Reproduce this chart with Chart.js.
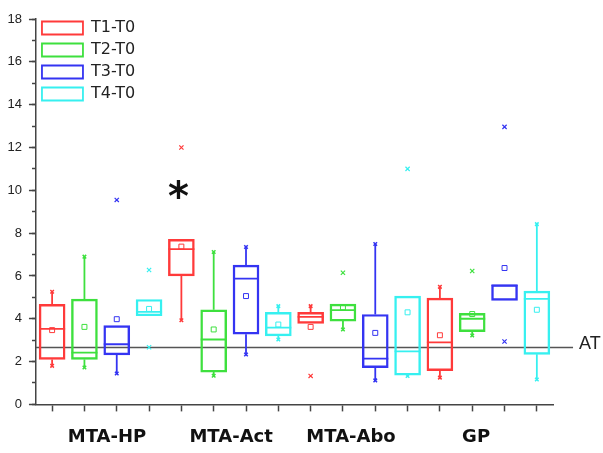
<!DOCTYPE html>
<html lang="en">
<head>
  <meta charset="UTF-8" />
  <title>Box chart | T-T0 differences</title>
  <script src="https://cdn.jsdelivr.net/npm/chart.js"></script>
  <style>
    body { margin: 0; background: #fff; }
    canvas { display: block; }
  </style>
</head>
<body>
  <canvas id="boxChart" width="603" height="453"></canvas>

  <script>
    const groups = ['MTA-HP', 'MTA-Act', 'MTA-Abo', 'GP'];
    const seriesNames = ['T1-T0', 'T2-T0', 'T3-T0', 'T4-T0'];

    // rows = series (T1..T4), columns = groups (HP, Act, Abo, GP)
    const q1 = [
      [2.1, 6.0, 3.78, 1.58],
      [2.1, 1.51, 3.89, 3.4],
      [2.31, 3.28, 1.72, 4.86],
      [4.14, 3.2, 1.37, 2.34]
    ];
    const median = [
      [3.53, 7.25, 4.09, 2.9],
      [2.42, 3.03, 4.4, 4.0],
      [2.81, 5.87, 2.14, 5.56],
      [4.32, 3.59, 2.48, 4.93]
    ];
    const q3 = [
      [4.67, 7.71, 4.3, 4.96],
      [4.92, 4.42, 4.68, 4.25],
      [3.68, 6.51, 4.2, 5.59],
      [4.9, 4.3, 5.06, 5.29]
    ];
    const mean = [
      [3.47, 7.37, 3.62, 3.23],
      [3.62, 3.5, 4.53, 4.22],
      [3.98, 5.06, 3.34, 6.37],
      [4.46, 3.73, 4.3, 4.42]
    ];
    const whiskerLow = [
      [1.8, 3.93, null, 1.25],
      [1.72, 1.34, 3.5, 3.22],
      [1.44, 2.33, 1.12, null],
      [null, 3.03, 1.33, 1.16]
    ];
    const whiskerHigh = [
      [5.26, null, 4.59, 5.49],
      [6.9, 7.12, null, null],
      [null, 7.35, 7.49, null],
      [null, 4.59, null, 8.42]
    ];
    const outliers = [
      [[], [12.0], [1.33], []],
      [[], [], [6.15], [6.23]],
      [[9.55], [], [], [12.96, 2.94]],
      [[6.28, 2.67], [], [11.0], []]
    ];
    const atLevel = 2.66;
    const starY = 9.93;   // the * above MTA-Act T1-T0

    const colors = ['#ff3a3a', '#3ee03e', '#3434f2', '#36f0f0'];
    const groupLabelAt = [2.7, 6.54, 10.25, 14.12];
    const pos = (s, g) => g * 4 + s + 1;

    const datasets = [];

    // boxes (q1..q3) first, these are the legend entries
    seriesNames.forEach((name, s) => {
      datasets.push({
        type: 'bar',
        label: name,
        data: groups.map((_, g) => ({ x: pos(s, g), y: [q1[s][g], q3[s][g]] })),
        backgroundColor: 'rgba(255,255,255,0)',
        borderColor: colors[s],
        borderWidth: 1.8,
        borderSkipped: false,
        barThickness: 26,
        grouped: false
      });
    });

    seriesNames.forEach((name, s) => {
      const c = colors[s];
      const whisk = [], ends = [], outs = [];
      groups.forEach((_, g) => {
        const x = pos(s, g);
        if (whiskerHigh[s][g] !== null) {
          whisk.push({ x, y: q3[s][g] }, { x, y: whiskerHigh[s][g] }, { x, y: null });
          ends.push({ x, y: whiskerHigh[s][g] });
        }
        if (whiskerLow[s][g] !== null) {
          whisk.push({ x, y: q1[s][g] }, { x, y: whiskerLow[s][g] }, { x, y: null });
          ends.push({ x, y: whiskerLow[s][g] });
        }
        outliers[s][g].forEach(v => outs.push({ x, y: v }));
      });

      datasets.push({
        type: 'line', label: name + ' whiskers', data: whisk,
        borderColor: c, borderWidth: 1.8, pointRadius: 0, spanGaps: false, fill: false
      });
      datasets.push({
        type: 'scatter', label: name + ' median',
        data: groups.map((_, g) => ({ x: pos(s, g), y: median[s][g] })),
        pointStyle: 'line', pointRadius: 13, pointBorderWidth: 1.8, pointBorderColor: c
      });
      datasets.push({
        type: 'scatter', label: name + ' mean',
        data: groups.map((_, g) => ({ x: pos(s, g), y: mean[s][g] })),
        pointStyle: 'rect', pointRadius: 3.5, pointBorderWidth: 1,
        pointBorderColor: c, pointBackgroundColor: 'rgba(255,255,255,0)'
      });
      datasets.push({
        type: 'scatter', label: name + ' ends', data: ends,
        pointStyle: 'crossRot', pointRadius: 2.5, pointBorderWidth: 1.5, pointBorderColor: c
      });
      datasets.push({
        type: 'scatter', label: name + ' outliers', data: outs,
        pointStyle: 'crossRot', pointRadius: 3, pointBorderWidth: 1.2, pointBorderColor: c
      });
    });

    // AT reference line, runs a bit past the x axis
    datasets.push({
      type: 'line', label: 'AT',
      data: [{ x: 0.5, y: atLevel }, { x: 17.12, y: atLevel }],
      borderColor: '#555', borderWidth: 1.5, pointRadius: 0, clip: false
    });

    // legend sits inside the plot, top-left
    const legendPlace = {
      id: 'legendPlace',
      afterLayout(chart) {
        const l = chart.legend, a = chart.chartArea;
        l.left = a.left;
        l.right = a.right;
        l.top = a.top - 5;
        l.bottom = a.bottom;
      }
    };

    const marks = {
      id: 'marks',
      afterDatasetsDraw(chart) {
        const { ctx, scales: { x, y } } = chart;
        ctx.save();
        ctx.fillStyle = '#111';
        ctx.font = 'bold 40px "DejaVu Sans"';
        ctx.textAlign = 'center';
        ctx.textBaseline = 'middle';
        ctx.fillText('*', x.getPixelForValue(pos(0, 1)) - 3, y.getPixelForValue(starY) + 8);

        ctx.fillStyle = '#222';
        ctx.font = '18px "Liberation Sans"';
        ctx.textAlign = 'left';
        ctx.fillText('AT', x.getPixelForValue(17.12) + 6, y.getPixelForValue(atLevel) - 3);
        ctx.restore();
      }
    };

    new Chart(document.getElementById('boxChart'), {
      type: 'bar',
      data: { datasets },
      options: {
        responsive: false,
        animation: false,
        events: [],
        layout: { padding: { left: 0.5, right: 50, top: 19, bottom: -10 } },
        plugins: {
          tooltip: { enabled: false },
          legend: {
            position: 'chartArea',
            align: 'start',
            labels: {
              boxWidth: 41,
              boxHeight: 13,
              padding: 6,
              color: '#222',
              font: { family: 'DejaVu Sans', size: 16 },
              filter: item => item.datasetIndex < 4
            }
          }
        },
        scales: {
          x: {
            type: 'linear', axis: 'x', position: 'bottom',
            min: 0.5, max: 16.5, offset: false,
            afterBuildTicks: ax => {
              ax.ticks = groups.flatMap((_, g) => seriesNames.map((_, s) => ({ value: pos(s, g) })));
            },
            ticks: { display: false },
            grid: { drawOnChartArea: false, offset: false, tickLength: 7, tickWidth: 1.5, tickColor: '#444' },
            border: { color: '#444', width: 1.5 }
          },
          x2: {
            type: 'linear', axis: 'x', position: 'bottom',
            min: 0.5, max: 16.5, offset: false,
            afterBuildTicks: ax => { ax.ticks = groupLabelAt.map(v => ({ value: v })); },
            ticks: {
              autoSkip: false, maxRotation: 0, padding: 15, color: '#111',
              font: { family: 'DejaVu Sans', weight: 'bold', size: 18 },
              callback: (v, i) => groups[i]
            },
            grid: { display: false, drawTicks: false },
            border: { display: false }
          },
          y: {
            type: 'linear', axis: 'y', position: 'left',
            min: 0, max: 18,
            ticks: { stepSize: 2, padding: 7, color: '#222', font: { family: 'Liberation Sans', size: 13 } },
            grid: { drawOnChartArea: false, tickLength: 7, tickWidth: 1.5, tickColor: '#444' },
            border: { color: '#444', width: 1.5 }
          },
          yMinor: {
            type: 'linear', axis: 'y', position: { x: 0.5 },
            min: 0, max: 18,
            ticks: { stepSize: 1, display: false },
            grid: { drawOnChartArea: false, tickLength: 4, tickWidth: 1.5, tickColor: '#444' },
            border: { display: false }
          }
        }
      },
      plugins: [legendPlace, marks]
    });
  </script>
</body>
</html>
